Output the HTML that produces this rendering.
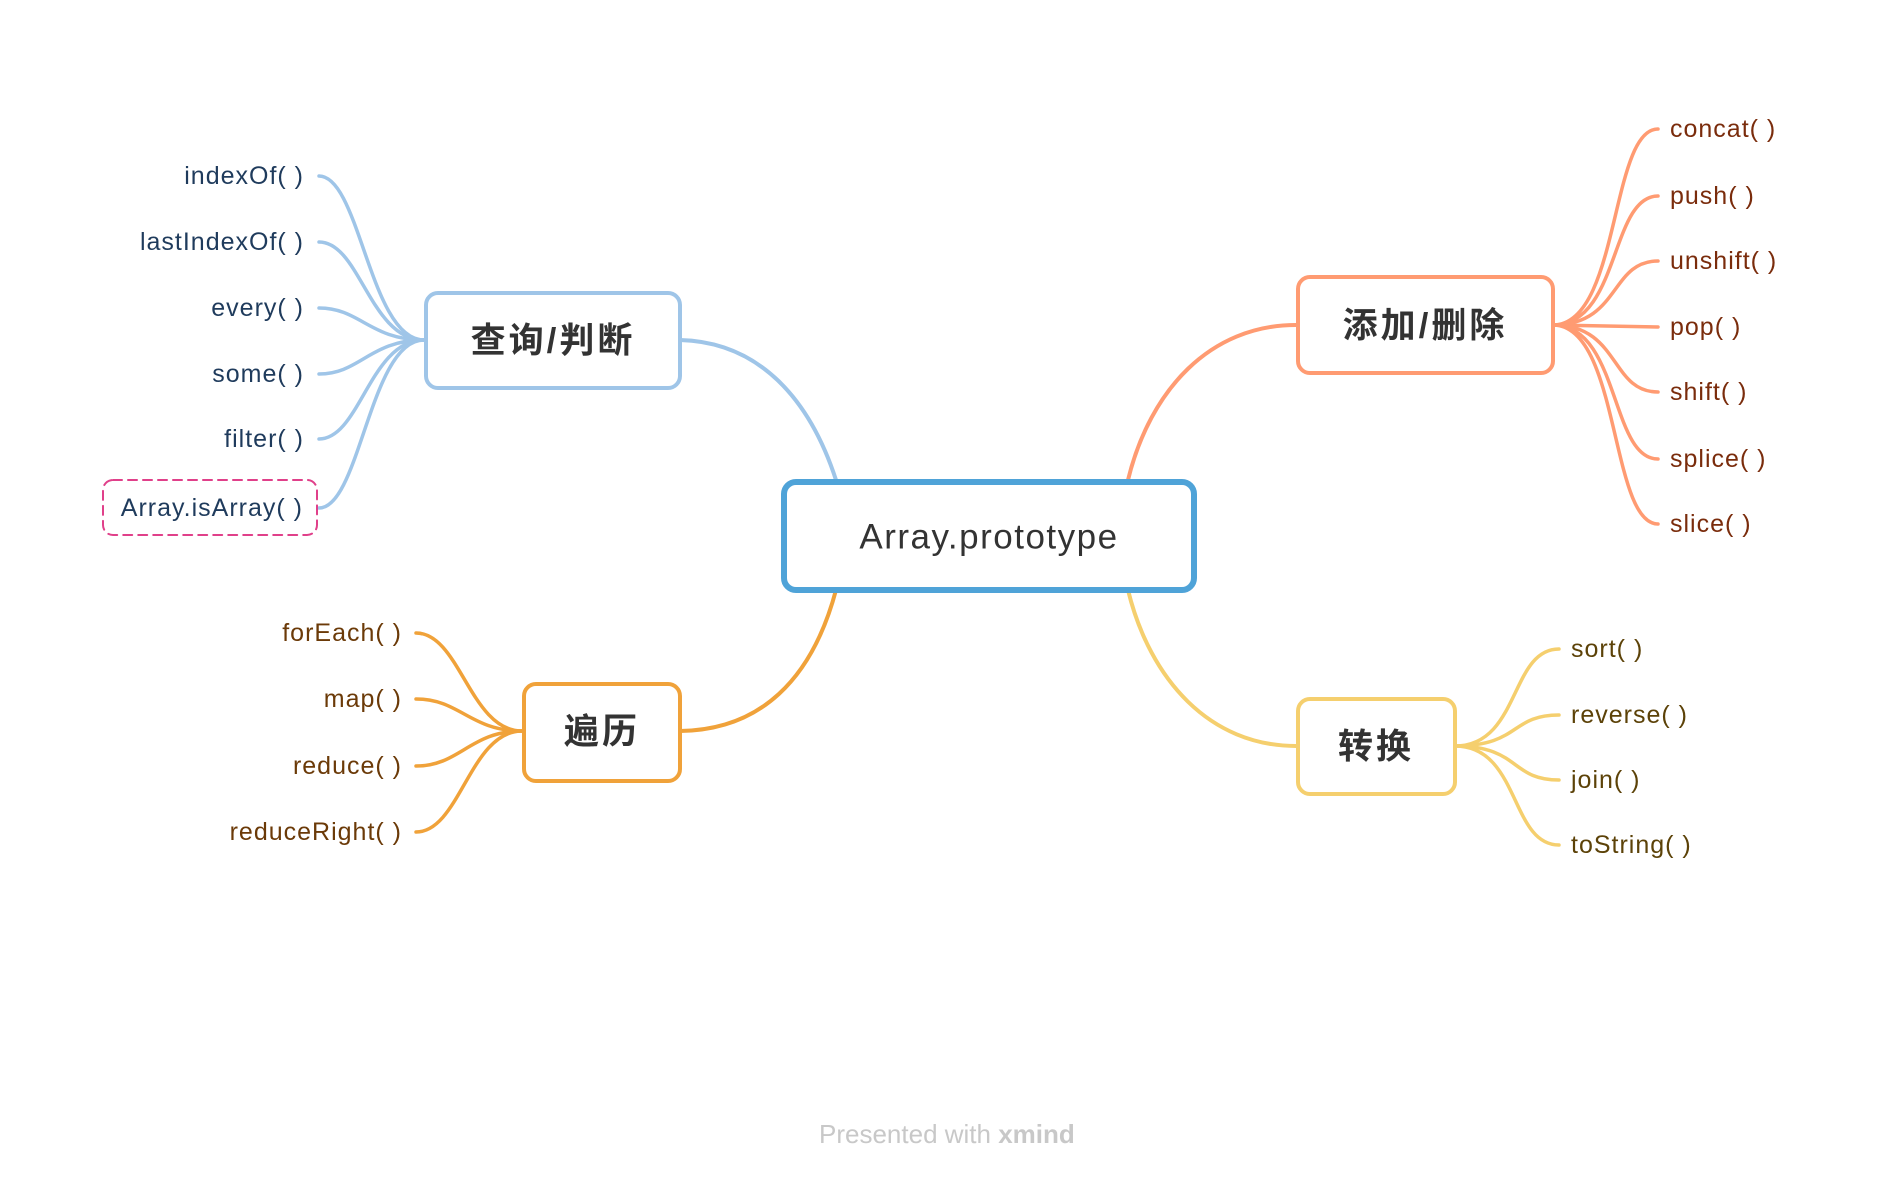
<!DOCTYPE html>
<html><head><meta charset="utf-8"><style>
html,body{margin:0;padding:0;background:#fff;}
svg{display:block;}
text{font-family:"Liberation Sans","Noto Sans CJK SC",sans-serif;}
</style></head><body>
<svg width="1904" height="1186" viewBox="0 0 1904 1186" xmlns="http://www.w3.org/2000/svg">
<g fill="none" stroke-linecap="round">
<path d="M680 340 C760 342 810 400 836 480" stroke="#9fc5e8" stroke-width="4"/>
<path d="M836 590 C812 680 760 730 680 731" stroke="#f0a23a" stroke-width="4"/>
<path d="M1128 480 C1150 390 1210 325 1296 325" stroke="#ff9b72" stroke-width="4"/>
<path d="M1128 590 C1150 680 1210 746 1296 746" stroke="#f5cf6e" stroke-width="4"/>
<g stroke="#9fc5e8" stroke-width="3.5">
<path d="M424 340 C370 340 360 176 319 176"/>
<path d="M424 340 C370 340 360 242 319 242"/>
<path d="M424 340 C370 340 360 308 319 308"/>
<path d="M424 340 C370 340 360 374 319 374"/>
<path d="M424 340 C370 340 360 439 319 439"/>
<path d="M424 340 C370 340 360 508 319 508"/>
</g>
<g stroke="#f0a23a" stroke-width="3.5">
<path d="M522 731 C470 731 460 633 416 633"/>
<path d="M522 731 C470 731 460 699 416 699"/>
<path d="M522 731 C470 731 460 766 416 766"/>
<path d="M522 731 C470 731 460 832 416 832"/>
</g>
<g stroke="#ff9b72" stroke-width="3.5">
<path d="M1553 325 C1620 325 1610 129 1658 129"/>
<path d="M1553 325 C1620 325 1610 196 1658 196"/>
<path d="M1553 325 C1620 325 1610 261 1658 261"/>
<path d="M1553 325 L1658 327"/>
<path d="M1553 325 C1620 325 1610 392 1658 392"/>
<path d="M1553 325 C1620 325 1610 459 1658 459"/>
<path d="M1553 325 C1620 325 1610 524 1658 524"/>
</g>
<g stroke="#f5cf6e" stroke-width="3.5">
<path d="M1455 746 C1520 746 1510 649 1559 649"/>
<path d="M1455 746 C1520 746 1510 715 1559 715"/>
<path d="M1455 746 C1520 746 1510 780 1559 780"/>
<path d="M1455 746 C1520 746 1510 845 1559 845"/>
</g>
<rect x="784" y="482" width="410" height="108" rx="12" fill="#fff" stroke="#4fa3d8" stroke-width="6"/>
<rect x="426" y="293" width="254" height="95" rx="12" fill="#fff" stroke="#9fc5e8" stroke-width="4"/>
<rect x="524" y="684" width="156" height="97" rx="12" fill="#fff" stroke="#f0a23a" stroke-width="4"/>
<rect x="1298" y="277" width="255" height="96" rx="12" fill="#fff" stroke="#ff9b72" stroke-width="4"/>
<rect x="1298" y="699" width="157" height="95" rx="12" fill="#fff" stroke="#f5cf6e" stroke-width="4"/>
<rect x="103" y="480" width="214" height="55" rx="10" fill="#fff" stroke="#e0408a" stroke-width="2" stroke-dasharray="9 6"/>
</g>
<g dominant-baseline="central">
<text x="989" y="537" font-size="35" letter-spacing="1.5" text-anchor="middle" fill="#333">Array.prototype</text>
<text x="553" y="341" font-size="35" font-weight="bold" letter-spacing="3" text-anchor="middle" fill="#333">查询/判断</text>
<text x="602" y="732" font-size="35" font-weight="bold" letter-spacing="3" text-anchor="middle" fill="#333">遍历</text>
<text x="1425" y="326" font-size="35" font-weight="bold" letter-spacing="3" text-anchor="middle" fill="#333">添加/删除</text>
<text x="1376" y="747" font-size="35" font-weight="bold" letter-spacing="3" text-anchor="middle" fill="#333">转换</text>
<g font-size="25" letter-spacing="1" fill="#1f3b5c" text-anchor="end">
<text x="304" y="176">indexOf( )</text>
<text x="304" y="242">lastIndexOf( )</text>
<text x="304" y="308">every( )</text>
<text x="304" y="374">some( )</text>
<text x="304" y="439">filter( )</text>
<text x="303" y="508">Array.isArray( )</text>
</g>
<g font-size="25" letter-spacing="1" fill="#6b3a08" text-anchor="end">
<text x="402" y="633">forEach( )</text>
<text x="402" y="699">map( )</text>
<text x="402" y="766">reduce( )</text>
<text x="402" y="832">reduceRight( )</text>
</g>
<g font-size="25" letter-spacing="1" fill="#7a2c0c">
<text x="1670" y="129">concat( )</text>
<text x="1670" y="196">push( )</text>
<text x="1670" y="261">unshift( )</text>
<text x="1670" y="327">pop( )</text>
<text x="1670" y="392">shift( )</text>
<text x="1670" y="459">splice( )</text>
<text x="1670" y="524">slice( )</text>
</g>
<g font-size="25" letter-spacing="1" fill="#5c4208">
<text x="1571" y="649">sort( )</text>
<text x="1571" y="715">reverse( )</text>
<text x="1571" y="780">join( )</text>
<text x="1571" y="845">toString( )</text>
</g>
</g>
<text x="819" y="1143" font-size="26" fill="#c8c8c8">Presented with <tspan font-weight="bold">xmind</tspan></text>
</svg>
</body></html>
